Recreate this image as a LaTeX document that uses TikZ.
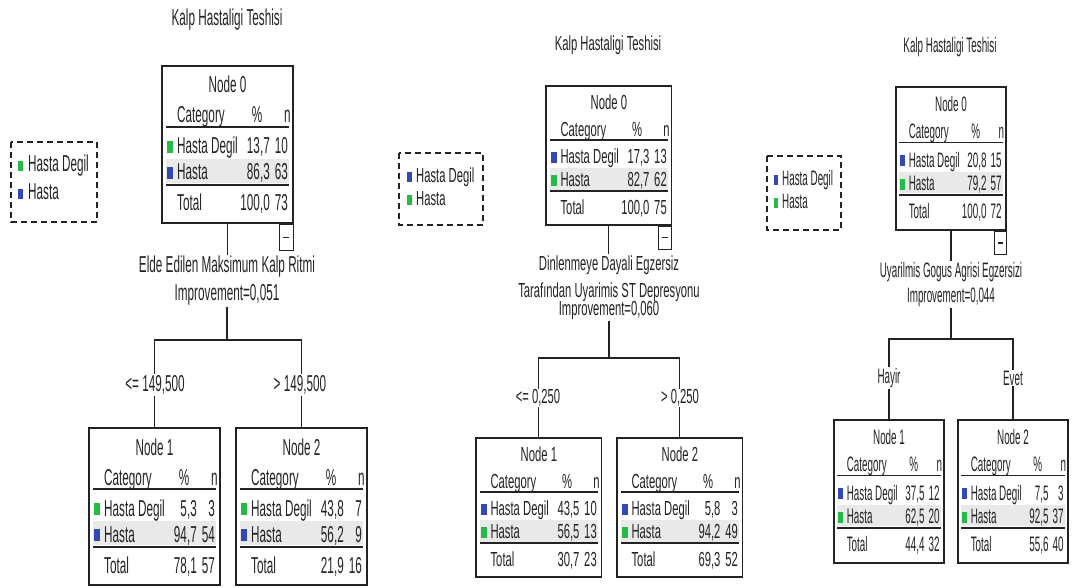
\documentclass[tikz,border=0pt]{standalone}
\usepackage{fontspec}
\setmainfont{Liberation Sans}[FakeStretch=0.51]
\usetikzlibrary{positioning}

\definecolor{spssgreen}{RGB}{38,186,72}
\definecolor{spssblue}{RGB}{52,72,178}
\definecolor{bandgray}{RGB}{233,233,233}
\definecolor{ink}{RGB}{35,35,35}

\newcommand{\spssfont}{\fontsize{23}{27}\selectfont}

% table of one tree node, top left corner at #2, drawn in units of the first tree
% #1 name, #3 node number, #4 #5 hasta degil, #6 #7 hasta, #8 #9 total
\newcommand{\nodetable}[9]{%
  \begin{scope}[shift={#2}, treescale]
    \fill[bandgray] (4,93) rectangle (127,117);
    \node[tablebox] (#1) at (65.5,78.5) {};
    \node[cell, anchor=base] (#1-head) at (65.5,27) {Node #3};
    \node[cell, anchor=base west] (#1-cat) at (15,57) {Category};
    \node[cell, anchor=base] (#1-pct) at (95,57) {\%};
    \node[cell, anchor=base west] (#1-n) at (122,57) {n};
    \draw[tablerule] (4,61) -- (127,61);
    \fill[degilcol] (5,75) rectangle (11,87);
    \node[cell, anchor=base west] (#1-a) at (15,88) {Hasta Degil};
    \node[cell, anchor=base east] (#1-ap) at (108,88) {#4};
    \node[cell, anchor=base east] (#1-an) at (126,88) {#5};
    \fill[hastacol] (5,101) rectangle (11,113);
    \node[cell, anchor=base west] (#1-b) at (15,114) {Hasta};
    \node[cell, anchor=base east] (#1-bp) at (108,114) {#6};
    \node[cell, anchor=base east] (#1-bn) at (126,114) {#7};
    \draw[tablerule] (4,119) -- (127,119);
    \node[cell, anchor=base west] (#1-t) at (15,145) {Total};
    \node[cell, anchor=base east] (#1-tp) at (108,145) {#8};
    \node[cell, anchor=base east] (#1-tn) at (126,145) {#9};
  \end{scope}}

\begin{document}
\begin{tikzpicture}[x=1pt, y=-1pt, font=\spssfont, text=ink,
    treescale/.style={},
    tablebox/.style={draw=ink, line width=1.4pt, inner sep=0, minimum width=131pt, minimum height=157pt},
    cell/.style={inner sep=0},
    tablerule/.style={ink, line width=1.8pt},
    link/.style={ink, line width=1.1pt},
    minusbox/.style={draw=ink, line width=1.2pt, inner sep=0, minimum width=14pt, minimum height=26pt, anchor=north east},
    legendbox/.style={ink, line width=1.3pt, dash pattern=on 6pt off 4pt},
    split/.style={inner sep=1pt, fill=white}
]
  \fill[white] (0,0) rectangle (1074,588);

  % first tree: maximum heart rate
  \begin{scope}[every node/.append style={treescale}]
    \colorlet{degilcol}{spssgreen}
    \colorlet{hastacol}{spssblue}
    \node (t1title) at (227,20) {Kalp Hastaligi Teshisi};
    \draw[legendbox] (11,142) rectangle (97,222);
    \fill[degilcol] (18,161) rectangle (23,171);
    \node[cell, anchor=base west] (t1leg1) at (28,172) {Hasta Degil};
    \fill[hastacol] (18,189) rectangle (23,199);
    \node[cell, anchor=base west] (t1leg2) at (28,200) {Hasta};

    \nodetable{t1n0}{(162,66)}{0}{13,7}{10}{86,3}{63}{100,0}{73}
    \node[minusbox] (t1minus) at (t1n0.south east) {\rule{6pt}{1.6pt}};
    \node[split] (t1var) at (227,267) {Elde Edilen Maksimum Kalp Ritmi};
    \node[split] (t1imp) at (227,295) {Improvement=0,051};
    \coordinate (t1fork) at (227,340);
    \draw[link] (t1n0.south) -- (t1n0.south |- t1var.north);
    \draw[link] (t1imp.south) -- (t1fork);

    \nodetable{t1n1}{(89,428)}{1}{5,3}{3}{94,7}{54}{78,1}{57}
    \nodetable{t1n2}{(236,428)}{2}{43,8}{7}{56,2}{9}{21,9}{16}
    \draw[link] (t1n1.north) |- (t1fork) -| (t1n2.north);
    \node[split] (t1left) at (155,385) {<= 149,500};
    \node[split] (t1right) at (300,385) {> 149,500};
  \end{scope}

  % second tree: ST depression
  \begin{scope}[treescale/.style={xscale=0.96, yscale=0.885},
      every node/.append style={treescale}]
    \colorlet{degilcol}{spssblue}
    \colorlet{hastacol}{spssgreen}
    \node (t2title) at (608,45) {Kalp Hastaligi Teshisi};
    \draw[legendbox] (399,153) rectangle (483,225);
    \fill[degilcol] (407,172) rectangle (412,182);
    \node[cell, anchor=base west] (t2leg1) at (416,183) {Hasta Degil};
    \fill[hastacol] (407,195) rectangle (412,205);
    \node[cell, anchor=base west] (t2leg2) at (416,206) {Hasta};

    \nodetable{t2n0}{(546,86)}{0}{17,3}{13}{82,7}{62}{100,0}{75}
    \node[minusbox] (t2minus) at (t2n0.south east) {\rule{6pt}{1.6pt}};
    \node[split] (t2var) at (609,265) {Dinlenmeye Dayali Egzersiz};
    \node[split] (t2var2) at (609,292) {Tarafından Uyarimis ST Depresyonu};
    \node[split] (t2imp) at (609,311) {Improvement=0,060};
    \coordinate (t2fork) at (609,358);
    \draw[link] (t2n0.south) -- (t2n0.south |- t2var.north);
    \draw[link] (t2imp.south) -- (t2fork);

    \nodetable{t2n1}{(476,438)}{1}{43,5}{10}{56,5}{13}{30,7}{23}
    \nodetable{t2n2}{(617,438)}{2}{5,8}{3}{94,2}{49}{69,3}{52}
    \draw[link] (t2n1.north) |- (t2fork) -| (t2n2.north);
    \node[split] (t2left) at (538,398) {<= 0,250};
    \node[split] (t2right) at (680,398) {> 0,250};
  \end{scope}

  % third tree: exercise induced angina
  \begin{scope}[treescale/.style={xscale=0.84, yscale=0.91},
      every node/.append style={treescale}]
    \colorlet{degilcol}{spssblue}
    \colorlet{hastacol}{spssgreen}
    \node (t3title) at (950,47) {Kalp Hastaligi Teshisi};
    \draw[legendbox] (767,156) rectangle (841,230);
    \fill[degilcol] (774,175) rectangle (778,185);
    \node[cell, anchor=base west] (t3leg1) at (782,186) {Hasta Degil};
    \fill[hastacol] (774,198) rectangle (778,208);
    \node[cell, anchor=base west] (t3leg2) at (782,209) {Hasta};

    \nodetable{t3n0}{(896,87)}{0}{20,8}{15}{79,2}{57}{100,0}{72}
    \node[minusbox] (t3minus) at (t3n0.south east) {\rule{6pt}{1.6pt}};
    \node[split] (t3var) at (951,272) {Uyarilmis Gogus Agrisi Egzersizi};
    \node[split] (t3imp) at (951,297) {Improvement=0,044};
    \coordinate (t3fork) at (951,339);
    \draw[link] (t3n0.south) -- (t3n0.south |- t3var.north);
    \draw[link] (t3imp.south) -- (t3fork);

    \nodetable{t3n1}{(834,420)}{1}{37,5}{12}{62,5}{20}{44,4}{32}
    \nodetable{t3n2}{(958,420)}{2}{7,5}{3}{92,5}{37}{55,6}{40}
    \draw[link] (t3n1.north) |- (t3fork) -| (t3n2.north);
    \node[split] (t3left) at (889,378) {Hayir};
    \node[split] (t3right) at (1013,378) {Evet};
  \end{scope}
\end{tikzpicture}
\end{document}
